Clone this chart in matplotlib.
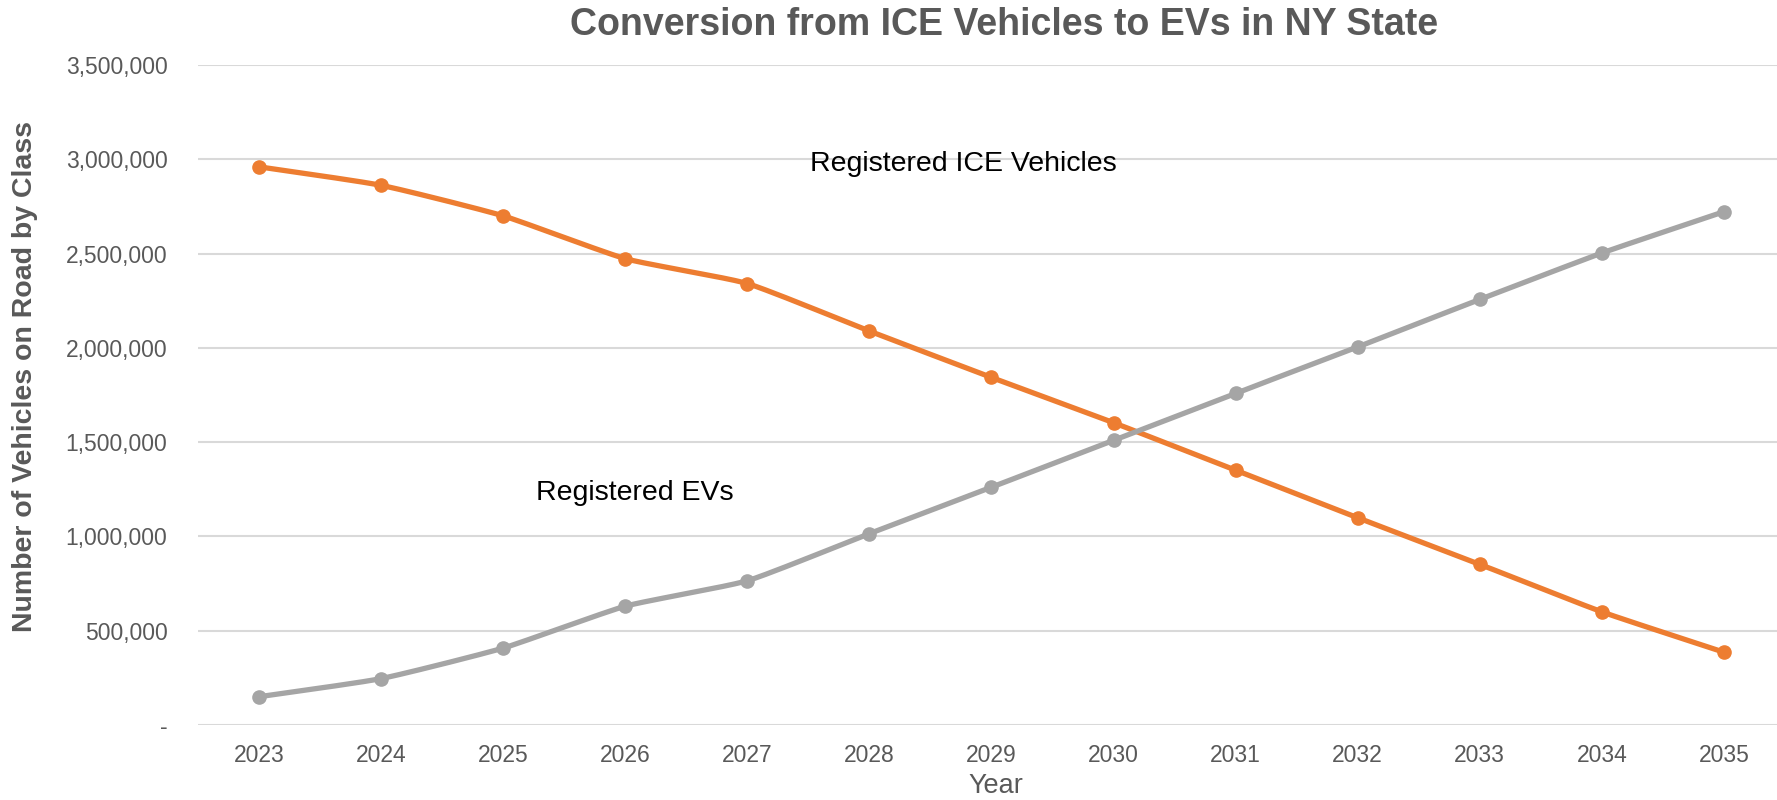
import numpy as np
import matplotlib
matplotlib.use("Agg")
import matplotlib.pyplot as plt
from matplotlib.ticker import FuncFormatter

years = ["2023", "2024", "2025", "2026", "2027", "2028", "2029",
         "2030", "2031", "2032", "2033", "2034", "2035"]
ice_vehicles = [2960000, 2862000, 2700000, 2473000, 2341000, 2089000, 1843000,
                1603000, 1351000, 1099000, 852000, 600000, 386000]
evs = [150000, 246000, 408000, 630000, 765000, 1015000, 1261000,
       1510000, 1759000, 2005000, 2257000, 2503000, 2722000]
title = "Conversion from ICE Vehicles to EVs in NY State"
ylabel = "Number of Vehicles on Road by Class"
xlabel = "Year"
yticks = [0, 500000, 1000000, 1500000, 2000000, 2500000, 3000000, 3500000]

plt.rcParams['font.family'] = ['Liberation Sans', 'DejaVu Sans']

ORANGE = "#ED7D31"
GRAY = "#A5A5A5"
TXT = "#595959"


def smooth(x, y, n=20, tension=0.5):
    # Catmull-Rom style smoothing (similar to spreadsheet "smoothed line")
    x = np.asarray(x, float)
    y = np.asarray(y, float)
    px = np.concatenate([[2 * x[0] - x[1]], x, [2 * x[-1] - x[-2]]])
    py = np.concatenate([[2 * y[0] - y[1]], y, [2 * y[-1] - y[-2]]])
    xs, ys = [], []
    for i in range(1, len(px) - 2):
        t = np.linspace(0, 1, n, endpoint=False)
        p0, p1, p2, p3 = (np.array([px[j], py[j]]) for j in range(i - 1, i + 3))
        m1 = tension * (p2 - p0) / 2
        m2 = tension * (p3 - p1) / 2
        h00 = 2 * t**3 - 3 * t**2 + 1
        h10 = t**3 - 2 * t**2 + t
        h01 = -2 * t**3 + 3 * t**2
        h11 = t**3 - t**2
        pts = (np.outer(h00, p1) + np.outer(h10, m1) + np.outer(h01, p2) + np.outer(h11, m2))
        xs.append(pts[:, 0])
        ys.append(pts[:, 1])
    xs.append([x[-1]])
    ys.append([y[-1]])
    return np.concatenate(xs), np.concatenate(ys)


fig = plt.figure(figsize=(17.77, 8.0), dpi=100)
ax = fig.add_axes([198 / 1777, 1 - 725 / 800, (1785 - 198) / 1777, (725 - 65) / 800])

xpos = np.arange(len(years))
for vals, col in [(ice_vehicles, ORANGE), (evs, GRAY)]:
    sx, sy = smooth(xpos, vals)
    ax.plot(sx, sy, color=col, lw=3.8, solid_capstyle="round", zorder=3, clip_on=False)
    ax.plot(xpos, vals, ls="none", marker="o", ms=9.5, color=col, zorder=4, clip_on=False)

ax.set_xlim(-0.5, len(years) - 0.5)
ax.set_ylim(0, 3500000)
ax.set_xticks(xpos)
ax.set_xticklabels(years)
ax.set_yticks(yticks)
ax.yaxis.set_major_formatter(FuncFormatter(lambda v, p: "-" if v == 0 else f"{int(v):,}"))
ax.grid(axis="y", color="#D9D9D9", lw=1.5, zorder=0)
ax.set_axisbelow(True)
for s in ax.spines.values():
    s.set_visible(False)
ax.tick_params(axis="both", length=0, labelsize=16.5, labelcolor=TXT)
ax.tick_params(axis="y", pad=22)
ax.tick_params(axis="x", pad=14)

fig.text(996 / 1777, 1 - 786 / 800, xlabel, ha="center", va="center", fontsize=19.5, color=TXT)
fig.text(25 / 1777, 1 - 376 / 800, ylabel, rotation=90, ha="center", va="center",
         fontsize=20.5, fontweight="bold", color=TXT)
fig.text(1004 / 1777, 1 - 25 / 800, title, ha="center", va="center",
         fontsize=27, fontweight="bold", color=TXT)

ax.text(5.77, 2975000, "Registered ICE Vehicles", ha="center", va="center", fontsize=20.5, color="black")
ax.text(3.08, 1230000, "Registered EVs", ha="center", va="center", fontsize=20.5, color="black")

fig.savefig("out.png", dpi=100)
